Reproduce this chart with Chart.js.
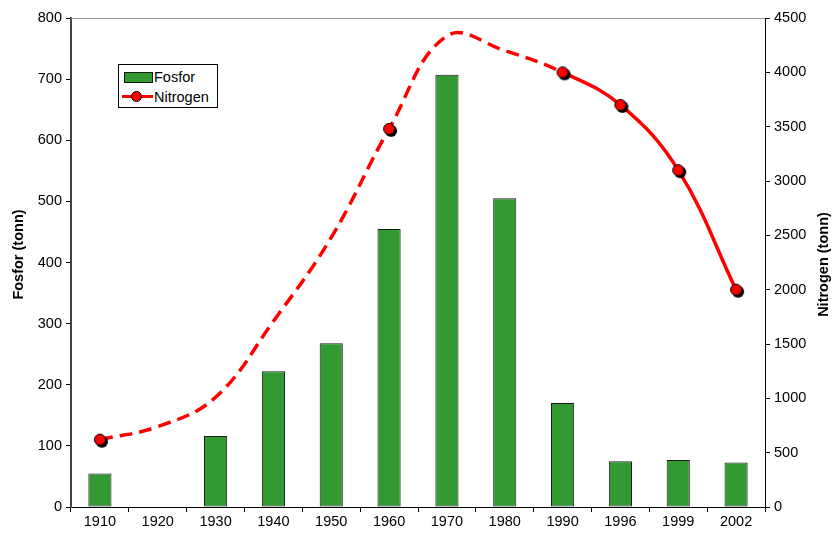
<!DOCTYPE html>
<html>
<head>
<meta charset="utf-8">
<script src="https://cdn.jsdelivr.net/npm/chart.js@4/dist/chart.umd.min.js"></script>
<style>
  html, body { margin: 0; padding: 0; background: #fff; }
  #wrap { position: relative; width: 832px; height: 534px; }
  #legend {
    position: absolute; left: 118px; top: 64px; width: 98px; height: 42px;
    border: 1px solid #000; background: #fff;
    font: 14.5px "Liberation Sans", Arial, sans-serif; color: #000;
  }
  #legend .row { position: absolute; left: 0; height: 20px; line-height: 20px; }
  #legend span.txt { position: absolute; left: 35px; white-space: nowrap; }
</style>
</head>
<body>
<div id="wrap">
  <canvas id="chart" width="832" height="534"></canvas>
  <div id="legend"></div>
</div>
<script>
// data
const aar = ['1910', '1920', '1930', '1940', '1950', '1960', '1970', '1980', '1990', '1996', '1999', '2002'];
const fosfor = [55, null, 116, 222, 268, 455, 707, 505, 170, 75, 77, 73];
const nitrogen = [620, 740, 1010, 1710, 2480, 3480, 4335, 4200, 4000, 3700, 3100, 2000];
// målte punkt (resten er stipla anslag)
const maalt = [true, false, false, false, false, true, false, false, true, true, true, true];
const fosforTicks = { min: 0, max: 800, step: 100 };
const nitrogenTicks = { min: 0, max: 4500, step: 500 };

const FONT = '"Liberation Sans", Arial, sans-serif';
const GRONN = '#339933';
const ROD = '#ff0000';

// punkt med skygge
function lagPunkt() {
  const c = document.createElement('canvas');
  c.width = 18; c.height = 18;
  const g = c.getContext('2d');
  g.fillStyle = '#000';
  g.beginPath(); g.arc(11, 11, 6, 0, Math.PI * 2); g.fill();
  g.fillStyle = ROD;
  g.strokeStyle = '#000';
  g.lineWidth = 1;
  g.beginPath(); g.arc(9, 9, 5.5, 0, Math.PI * 2); g.fill(); g.stroke();
  return c;
}
const punkt = lagPunkt();

// aksetitler og topplinje
const ekstra = {
  id: 'ekstra',
  afterDraw(chart) {
    const ctx = chart.ctx;
    const a = chart.chartArea;
    ctx.save();
    ctx.strokeStyle = '#999';
    ctx.lineWidth = 1;
    ctx.beginPath();
    ctx.moveTo(a.left, a.top + 0.5);
    ctx.lineTo(a.right, a.top + 0.5);
    ctx.stroke();

    ctx.fillStyle = '#000';
    ctx.font = 'bold 14.5px ' + FONT;
    ctx.textAlign = 'center';
    ctx.textBaseline = 'middle';
    const midt = (a.top + a.bottom) / 2;
    ctx.translate(19, midt - 8);
    ctx.rotate(-Math.PI / 2);
    ctx.fillText('Fosfor (tonn)', 0, 0);
    ctx.restore();

    ctx.save();
    ctx.fillStyle = '#000';
    ctx.font = 'bold 14.5px ' + FONT;
    ctx.textAlign = 'center';
    ctx.textBaseline = 'middle';
    ctx.translate(824, midt + 2);
    ctx.rotate(-Math.PI / 2);
    ctx.fillText('Nitrogen (tonn)', 0, 0);
    ctx.restore();
  }
};

const chart = new Chart(document.getElementById('chart'), {
  data: {
    labels: aar,
    datasets: [
      {
        type: 'line',
        label: 'Nitrogen',
        data: nitrogen,
        yAxisID: 'y1',
        order: 1,
        borderColor: ROD,
        borderWidth: 3.5,
        tension: 0.4,
        pointStyle: punkt,
        pointRadius: maalt.map(m => m ? 6 : 0),
        pointHoverRadius: maalt.map(m => m ? 6 : 0),
        segment: {
          borderDash: c => c.p1DataIndex <= 8 ? [13, 7] : undefined
        }
      },
      {
        type: 'bar',
        label: 'Fosfor',
        data: fosfor,
        yAxisID: 'y',
        order: 2,
        backgroundColor: GRONN,
        borderColor: '#1a1a1a',
        borderWidth: 1,
        borderSkipped: false,
        barPercentage: 0.4,
        categoryPercentage: 1.0
      }
    ]
  },
  options: {
    responsive: false,
    animation: false,
    layout: { padding: { top: 18, left: 0, right: 0, bottom: 0 } },
    plugins: {
      legend: { display: false },
      tooltip: { enabled: false }
    },
    scales: {
      x: {
        offset: true,
        grid: {
          offset: true,
          drawOnChartArea: false,
          drawTicks: true,
          tickLength: 5,
          color: '#000'
        },
        border: { color: '#000', width: 1 },
        ticks: { color: '#000', font: { family: FONT, size: 14.5 }, padding: 1, maxRotation: 0 },
        afterFit: s => { s.height = 27; }
      },
      y: {
        position: 'left',
        min: fosforTicks.min,
        max: fosforTicks.max,
        ticks: { stepSize: fosforTicks.step, color: '#000', font: { family: FONT, size: 14.5 }, padding: 4 },
        grid: { drawOnChartArea: false, tickLength: 5, color: '#000' },
        border: { color: '#444', width: 2 },
        afterFit: s => { s.width = 71; }
      },
      y1: {
        position: 'right',
        min: nitrogenTicks.min,
        max: nitrogenTicks.max,
        ticks: {
          stepSize: nitrogenTicks.step, color: '#000', font: { family: FONT, size: 14.5 }, padding: 4,
          callback: v => String(v)
        },
        grid: { drawOnChartArea: false, tickLength: 5, color: '#000' },
        border: { color: '#000', width: 1 },
        afterFit: s => { s.width = 67; }
      }
    }
  },
  plugins: [ekstra]
});

// forklaring
const legend = document.getElementById('legend');
legend.innerHTML =
  '<div class="row" style="top:2px;width:98px">' +
    '<span style="position:absolute;left:5px;top:5px;width:27px;height:9px;background:' + GRONN + ';border:1px solid #1a1a1a"></span>' +
    '<span class="txt">' + chart.data.datasets[1].label + '</span></div>' +
  '<div class="row" style="top:22px;width:98px">' +
    '<span style="position:absolute;left:3px;top:8px;width:31px;height:3px;background:' + ROD + '"></span>' +
    '<span style="position:absolute;left:12px;top:4px;width:11px;height:11px;border-radius:50%;background:' + ROD + ';border:1px solid #000;box-sizing:border-box"></span>' +
    '<span class="txt">' + chart.data.datasets[0].label + '</span></div>';
</script>
</body>
</html>
